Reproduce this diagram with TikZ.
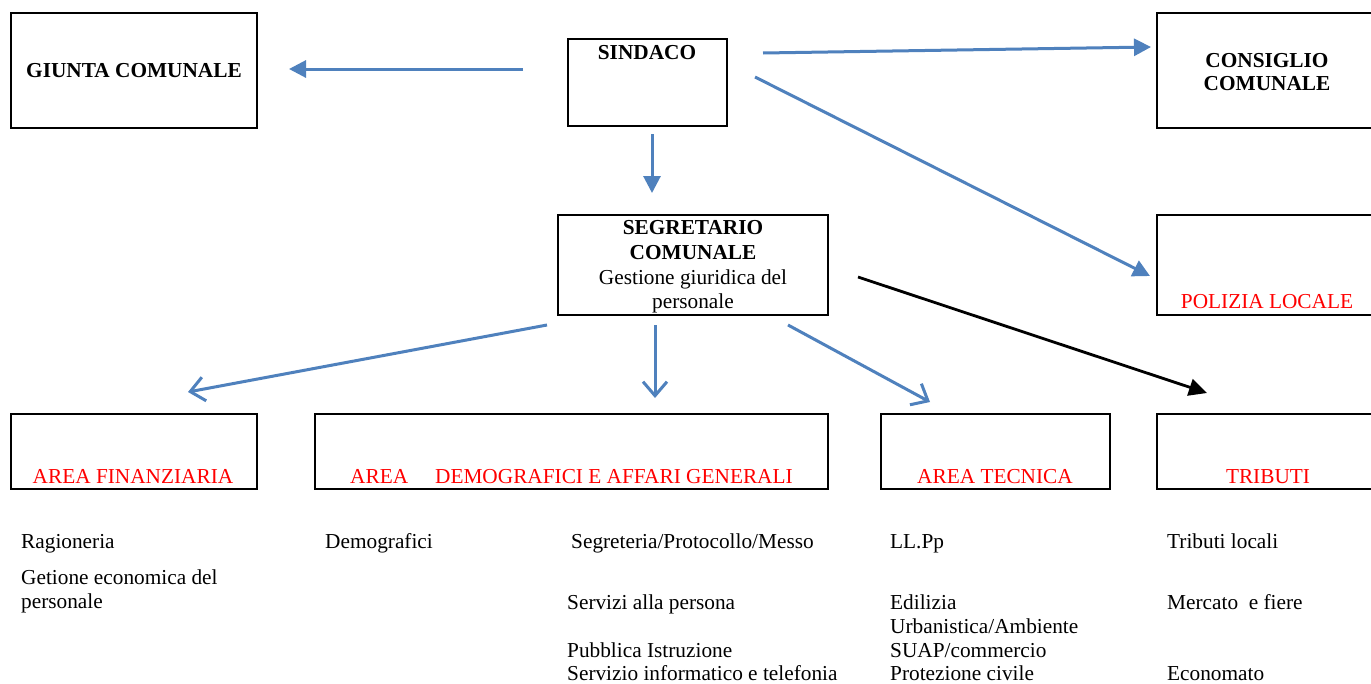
\documentclass[tikz,border=0pt]{standalone}
\usepackage{fontspec}
\setmainfont{Liberation Serif}
\usetikzlibrary{arrows.meta}
\definecolor{arrblue}{HTML}{4F81BD}
\definecolor{pred}{HTML}{FF0000}
\tikzset{
  box/.style={draw=black, line width=2.9pt, inner sep=0pt},
  txt/.style={inner sep=0pt, anchor=base, font=\fontsize{21.3}{24.5}\selectfont},
  btxt/.style={txt, font=\fontsize{21.3}{24.5}\selectfont\bfseries},
  rtxt/.style={txt, text=pred},
  ltxt/.style={txt, anchor=base west},
  fillarrow/.style={draw=arrblue, line width=3pt, -{Triangle[length=17pt,width=17pt]}},
  openarrow/.style={draw=arrblue, line width=3pt, -{Straight Barb[length=14pt,width=24pt,line width=3pt]}},
  blackarrow/.style={draw=black, line width=2.8pt, -{Triangle[length=18pt,width=17pt]}},
}
\begin{document}
\begin{tikzpicture}[x=1pt,y=-1pt]
\useasboundingbox (0,0) rectangle (1371,683);
\clip (0,0) rectangle (1371,683);
\fill[white] (0,0) rectangle (1371,683);
% boxes
\node[box, minimum width=246pt, minimum height=115pt] (giunta) at (134,70.5) {};
\node[box, minimum width=159pt, minimum height=87pt] (sindaco) at (647.5,82.5) {};
\node[box, minimum width=228pt, minimum height=115pt] (consiglio) at (1271,70.5) {};
\node[box, minimum width=270pt, minimum height=100pt] (segr) at (693,265) {};
\node[box, minimum width=228pt, minimum height=100pt] (polizia) at (1271,265) {};
\node[box, minimum width=246pt, minimum height=75pt] (fin) at (134,451.5) {};
\node[box, minimum width=513pt, minimum height=75pt] (demo) at (571.5,451.5) {};
\node[box, minimum width=229pt, minimum height=75pt] (tec) at (995.5,451.5) {};
\node[box, minimum width=228pt, minimum height=75pt] (trib) at (1271,451.5) {};
% box texts
\node[btxt] (tgiunta) at (134,77) {GIUNTA COMUNALE};
\node[btxt] (tsindaco) at (647,59) {SINDACO};
\node[btxt] (tcons1) at (1267,67) {CONSIGLIO};
\node[btxt] (tcons2) at (1267,90) {COMUNALE};
\node[btxt] (tsegr1) at (693,234) {SEGRETARIO};
\node[btxt] (tsegr2) at (693,259) {COMUNALE};
\node[txt] (tsegr3) at (693,284) {Gestione giuridica del};
\node[txt] (tsegr4) at (693,308) {personale};
\node[rtxt] (tpol) at (1267,308) {POLIZIA LOCALE};
\node[rtxt] (tfin) at (133,483) {AREA FINANZIARIA};
\node[rtxt, anchor=base west] (tdemo) at (350,483) {AREA\hspace{27pt}DEMOGRAFICI E AFFARI GENERALI};
\node[rtxt] (ttec) at (995,483) {AREA TECNICA};
\node[rtxt] (ttrib) at (1268,483) {TRIBUTI};
% lists
\node[ltxt] (l1) at (21,548) {Ragioneria};
\node[ltxt] (l2) at (21,584) {Getione economica del};
\node[ltxt] (l3) at (21,608) {personale};
\node[ltxt] (d1) at (325,548) {Demografici};
\node[ltxt] (s1) at (571,548) {Segreteria/Protocollo/Messo};
\node[ltxt] (s2) at (567,609) {Servizi alla persona};
\node[ltxt] (s3) at (567,657) {Pubblica Istruzione};
\node[ltxt] (s4) at (567,680.5) {Servizio informatico e telefonia};
\node[ltxt] (t1) at (890,548) {LL.Pp};
\node[ltxt] (t2) at (890,609) {Edilizia};
\node[ltxt] (t3) at (890,633) {Urbanistica/Ambiente};
\node[ltxt] (t4) at (890,657) {SUAP/commercio};
\node[ltxt] (t5) at (890,680.5) {Protezione civile};
\node[ltxt] (r1) at (1167,548) {Tributi locali};
\node[ltxt] (r2) at (1167,609) {Mercato\ \ e fiere};
\node[ltxt] (r3) at (1167,680.5) {Economato};
% arrow endpoints
\coordinate (a1s) at (523,69);   \coordinate (a1e) at (289,69);
\coordinate (a2s) at (763,53);   \coordinate (a2e) at (1151,47);
\coordinate (a3s) at (755,77);   \coordinate (a3e) at (1150,276);
\coordinate (a4s) at (652,134);  \coordinate (a4e) at (652,193);
\coordinate (b1s) at (547,325);  \coordinate (b1e) at (188,392);
\coordinate (b2s) at (655,325);  \coordinate (b2e) at (655,398);
\coordinate (b3s) at (788,325);  \coordinate (b3e) at (930,402);
\coordinate (b4s) at (858,277);  \coordinate (b4e) at (1207,393);
\draw[fillarrow] (a1s) -- (a1e);
\draw[fillarrow] (a2s) -- (a2e);
\draw[fillarrow] (a3s) -- (a3e);
\draw[fillarrow] (a4s) -- (a4e);
\draw[openarrow] (b1s) -- (b1e);
\draw[openarrow] (b2s) -- (b2e);
\draw[openarrow] (b3s) -- (b3e);
\draw[blackarrow] (b4s) -- (b4e);
\end{tikzpicture}
\end{document}
